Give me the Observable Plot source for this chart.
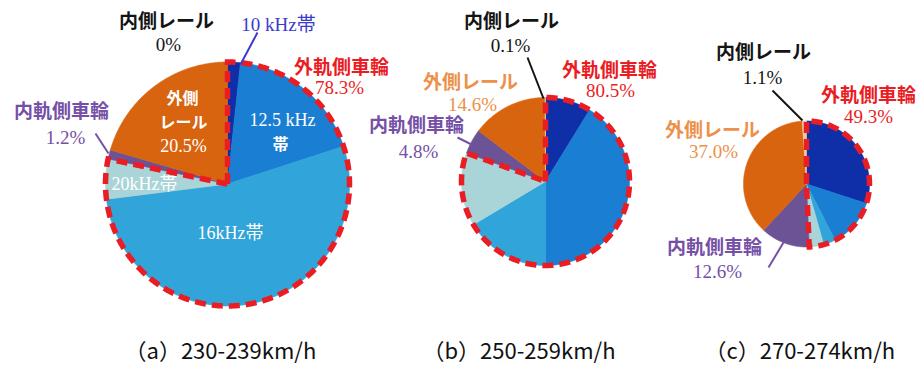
<!DOCTYPE html>
<html>
<head>
<meta charset="utf-8">
<script src="https://cdn.jsdelivr.net/npm/d3@7"></script>
<script src="https://cdn.jsdelivr.net/npm/@observablehq/plot@0.6"></script>
<style>
  body { margin: 0; background: #fff; }
  #chart svg { display: block; background: #fff; }
</style>
</head>
<body>
<div id="chart"></div>
<script>
// Noise source breakdown by speed band (share of total, %)
const categories = ["10 kHz帯", "12.5 kHz帯", "16kHz帯", "20kHz帯", "内軌側車輪", "外側レール", "内側レール"];
const outerWheel = "外軌側車輪";          // sum of the four frequency bands
const bandCount = 4;                       // first four categories belong to the outer wheel
const panels = ["a", "b", "c"];
const speeds = ["230-239km/h", "250-259km/h", "270-274km/h"];
const shareA = [1.7, 18.3, 53.0, 5.3, 1.2, 20.5, 0];
const shareB = [8.8, 41.2, 16.4, 14.1, 4.8, 14.6, 0.1];
const shareC = [30.0, 12.5, 3.1, 3.7, 12.6, 37.0, 1.1];
const shares = [shareA, shareB, shareC];

// Styling
const sliceColors = ["#0f2fa8", "#1a7ed3", "#31a4d9", "#aad5d8", "#6b5396", "#d9640f", "#ecc9a0"];
const red = "#ea1c24", purple = "#7550a6", orange = "#ec904a", ink = "#141414", blueText = "#3b3bcc";
const SERIF = "'Liberation Serif','Noto Sans CJK JP',serif";
const GOTHIC = "'Noto Sans CJK JP',sans-serif";

// Layout of the three pies (pixel frame)
const pies = [
  {cx: 227, cy: 183.5, r: 122},
  {cx: 545, cy: 181, r: 84},
  {cx: 806, cy: 183.5, r: 63}
];

const pct = (v) => (v === 0 ? "0%" : v.toFixed(1) + "%");
const sum = (a) => a.reduce((s, v) => s + v, 0);
const outerShare = shares.map((s) => +sum(s.slice(0, bandCount)).toFixed(1));

// Angle measured clockwise from 12 o'clock
const pt = (p, a, r = p.r) => ({x: p.cx + r * Math.sin(a), y: p.cy - r * Math.cos(a)});
function arcPoints(p, a0, a1) {
  const n = Math.max(2, Math.ceil((a1 - a0) / (Math.PI / 360)));
  return d3.range(n + 1).map((k) => pt(p, a0 + (a1 - a0) * k / n));
}

// Slice polygons
const sliceRows = [];
shares.forEach((s, pi) => {
  const p = pies[pi];
  let acc = 0;
  s.forEach((v, ci) => {
    const a0 = acc / 100 * 2 * Math.PI;
    acc += v;
    const a1 = acc / 100 * 2 * Math.PI;
    if (v <= 0) return;
    const key = pi + "-" + ci, color = sliceColors[ci];
    [{x: p.cx, y: p.cy}, ...arcPoints(p, a0, a1), {x: p.cx, y: p.cy}]
      .forEach((q) => sliceRows.push({...q, key, color}));
  });
});

// Dashed outline around the outer-wheel group
const outlineRows = [];
outerShare.forEach((v, pi) => {
  const p = pies[pi];
  const a1 = v / 100 * 2 * Math.PI;
  [{x: p.cx, y: p.cy}, ...arcPoints(p, 0, a1), {x: p.cx, y: p.cy}]
    .forEach((q) => outlineRows.push({...q, key: pi}));
});

// Labels around each pie: [x, y] of the name line and the value line
const labelPos = [
  {inner: [[166, 21], [168, 44]], outer: [[341, 67], [339, 87]], inWheel: [[61, 111], [65, 137]], outRail: null},
  {inner: [[511, 21], [510, 45]], outer: [[609, 70], [610, 90]], inWheel: [[416, 125], [418, 151]], outRail: [[470, 82], [472, 104]]},
  {inner: [[763, 52], [762, 77]], outer: [[868, 95], [868, 116]], inWheel: [[714, 247], [717, 271]], outRail: [[712, 130], [713, 151]]}
];

const nameRows = [], valueRows = [];
shares.forEach((s, pi) => {
  const L = labelPos[pi];
  const add = (pos, name, value, color) => {
    nameRows.push({x: pos[0][0], y: pos[0][1], text: name, color});
    valueRows.push({x: pos[1][0], y: pos[1][1], text: pct(value), color});
  };
  add(L.inner, categories[6], s[6], ink);
  add(L.outer, outerWheel, outerShare[pi], red);
  add(L.inWheel, categories[4], s[4], purple);
  if (L.outRail) add(L.outRail, categories[5], s[5], orange);
});

// Labels drawn inside the large pie (a)
const insideBold = [
  {x: 182, y: 98, text: categories[5].slice(0, 2)},
  {x: 183, y: 122, text: categories[5].slice(2)},
  {x: 280, y: 144, text: categories[1].slice(-1)}
];
const insideSerif = [
  {x: 183, y: 146, text: pct(shareA[5])},
  {x: 282, y: 120, text: categories[1].slice(0, -1)},
  {x: 144, y: 184, text: categories[3]},
  {x: 230, y: 233, text: categories[2]}
];
const bandLabel = [{x: 278, y: 24, text: categories[0]}];

// Leader lines
const leaders = [
  {x1: 257, y1: 32, x2: 240, y2: 64, color: blueText},
  {x1: 95, y1: 133, x2: 108, y2: 153, color: purple},
  {x1: 527, y1: 57, x2: 543, y2: 98, color: ink},
  {x1: 457, y1: 137, x2: 475, y2: 146, color: purple},
  {x1: 772, y1: 90, x2: 802, y2: 120, color: ink},
  {x1: 768, y1: 267, x2: 783, y2: 242, color: purple}
];

// Panel captions
const captionX = [124, 422, 704];
const captions = panels.map((c, i) => ({x: captionX[i], y: 351, text: `（${c}）${speeds[i]}`}));

const chart = Plot.plot({
  width: 922,
  height: 367,
  margin: 0,
  x: {domain: [0, 922], range: [0, 922], axis: null},
  y: {domain: [0, 367], range: [0, 367], axis: null},
  style: {background: "#fff", overflow: "visible"},
  marks: [
    Plot.line(sliceRows, {x: "x", y: "y", z: "key", fill: "color", stroke: "color", strokeWidth: 0.6, curve: "linear"}),
    Plot.text(insideBold, {x: "x", y: "y", text: "text", fill: "#fff", fontFamily: GOTHIC, fontWeight: "bold", fontSize: 16}),
    Plot.text(insideSerif, {x: "x", y: "y", text: "text", fill: "#fff", fontFamily: SERIF, fontSize: 18}),
    Plot.line(outlineRows, {x: "x", y: "y", z: "key", stroke: red, strokeWidth: 5.5, strokeDasharray: "11,6", strokeLinecap: "butt", strokeLinejoin: "miter", strokeMiterlimit: 4}),
    Plot.link(leaders, {x1: "x1", y1: "y1", x2: "x2", y2: "y2", stroke: "color", strokeWidth: 2}),
    Plot.text(nameRows, {x: "x", y: "y", text: "text", fill: "color", fontFamily: GOTHIC, fontWeight: "bold", fontSize: 19}),
    Plot.text(valueRows, {x: "x", y: "y", text: "text", fill: "color", fontFamily: SERIF, fontSize: 19}),
    Plot.text(bandLabel, {x: "x", y: "y", text: "text", fill: blueText, fontFamily: SERIF, fontSize: 19}),
    Plot.text(captions, {x: "x", y: "y", text: "text", fill: "#111", fontFamily: GOTHIC, fontSize: 22, textAnchor: "start"})
  ]
});

document.getElementById("chart").append(chart);
</script>
</body>
</html>
